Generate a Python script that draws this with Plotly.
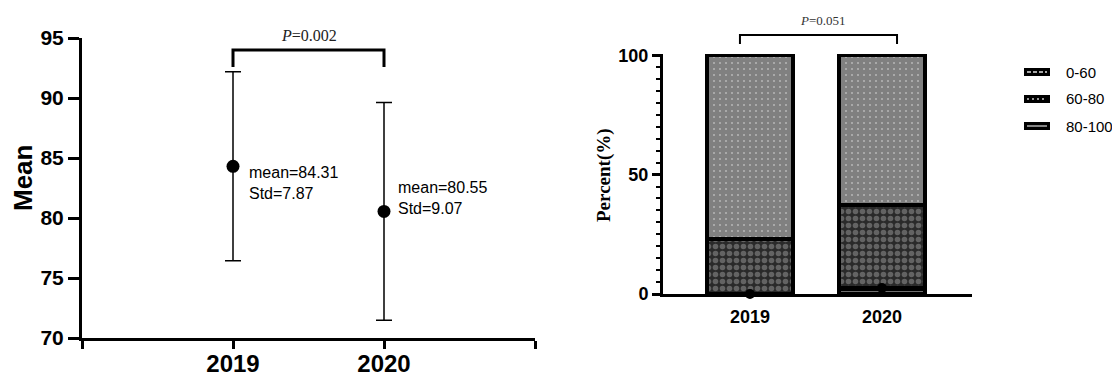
import plotly.graph_objects as go

# ---- data ----
years = ["2019", "2020"]
means = [84.31, 80.55]
stds = [7.87, 9.07]
p_left = "0.002"
p_right = "0.051"

groups = ["0-60", "60-80", "80-100"]
pct_0_60 = [0.0, 2.5]
pct_60_80 = [23.0, 34.7]
pct_80_100 = [77.0, 62.8]

# page has an 8px body margin, so the figure is drawn 8px in from the top-left
OFF = 8
W, H = 1120 - OFF, 376 - OFF
def px(x): return (x - OFF) / W
def py(y): return 1 - (y - OFF) / H

xpos = [1, 2]

fig = go.Figure()

# ---- left panel: mean +/- std ----
fig.add_trace(go.Scatter(
    x=xpos, y=means, mode="markers",
    marker=dict(color="black", size=13),
    error_y=dict(type="data", array=stds, visible=True, color="black", thickness=1.5, width=8),
    xaxis="x", yaxis="y", showlegend=False, cliponaxis=False,
))

# ---- right panel: stacked percent bars ----
bar_line = dict(color="black", width=3.5)
bw = 0.65
styles = [
    dict(color="black", line=bar_line,
         pattern=dict(shape="-", fgcolor="#dddddd", bgcolor="black", size=5, solidity=0.2)),
    dict(color="#2a2a2a", line=bar_line,
         pattern=dict(shape=".", fgcolor="#9c9c9c", bgcolor="#2a2a2a", size=7, solidity=0.5)),
    dict(color="#808080", line=bar_line,
         pattern=dict(shape=".", fgcolor="#e6e6e6", bgcolor="#808080", size=6, solidity=0.1)),
]
for name, vals, st in zip(groups, [pct_0_60, pct_60_80, pct_80_100], styles):
    fig.add_trace(go.Bar(x=xpos, y=vals, name=name, width=bw, marker=st,
                         xaxis="x2", yaxis="y2", showlegend=False))
fig.add_trace(go.Scatter(
    x=xpos, y=pct_0_60, mode="markers",
    marker=dict(color="black", size=10),
    xaxis="x2", yaxis="y2", showlegend=False, cliponaxis=False,
))

bold = dict(family="Arial", color="black", weight="bold")

fig.update_layout(
    width=W, height=H,
    margin=dict(l=0, r=0, t=0, b=0),
    paper_bgcolor="white", plot_bgcolor="white",
    barmode="stack",
    showlegend=False,
    xaxis=dict(domain=[px(82), px(535)], range=[0, 3], automargin=False,
               tickvals=[0, 1, 2, 3], ticktext=["", years[0], years[1], ""],
               ticks="outside", ticklen=8, tickwidth=3, tickcolor="black",
               ticklabelstandoff=-6,
               showline=True, linecolor="black", linewidth=3,
               showgrid=False, zeroline=False,
               tickfont=dict(size=24, **bold), anchor="y"),
    yaxis=dict(domain=[py(338), py(38)], range=[70, 95], automargin=False,
               tickvals=[70, 75, 80, 85, 90, 95],
               ticks="outside", ticklen=11, tickwidth=3, tickcolor="black",
               showline=True, linecolor="black", linewidth=3,
               showgrid=False, zeroline=False,
               tickfont=dict(size=21, **bold), anchor="x"),
    xaxis2=dict(domain=[px(663), px(972)], range=[0.341, 2.682], automargin=False,
                tickvals=xpos, ticktext=years, ticks="",
                ticklabelstandoff=5,
                showline=True, linecolor="black", linewidth=2.5,
                showgrid=False, zeroline=False,
                tickfont=dict(size=18, **bold), anchor="y2"),
    yaxis2=dict(domain=[py(294), py(54)], range=[0, 100.5], automargin=False,
                tickvals=[0, 50, 100],
                ticks="outside", ticklen=8, tickwidth=2.5, tickcolor="black",
                minor=dict(dtick=5, ticks="outside", ticklen=4, tickwidth=2, tickcolor="black"),
                showline=True, linecolor="black", linewidth=3,
                showgrid=False, zeroline=False,
                tickfont=dict(size=18, **bold), anchor="x2"),
)

# significance brackets
fig.add_shape(type="path", xref="x", yref="paper",
              path=f"M 1 {py(67)} L 1 {py(50)} L 2 {py(50)} L 2 {py(67)}",
              line=dict(color="black", width=3))
fig.add_shape(type="path", xref="x2", yref="paper",
              path=f"M 0.924 {py(44)} L 0.924 {py(35)} L 2.114 {py(35)} L 2.114 {py(44)}",
              line=dict(color="black", width=2))

# manual legend (wide black swatches with inner line)
leg_y = [72, 99, 126]
inner = [dict(color="#e0e0e0", width=1.5, dash="4px,2px"),
         dict(color="#c8c8c8", width=1.5, dash="2px,3px"),
         dict(color="#b0b0b0", width=1.5)]
for i, name in enumerate(groups):
    yc = leg_y[i]
    fig.add_shape(type="rect", xref="paper", yref="paper",
                  x0=px(1024), x1=px(1050), y0=py(yc + 4), y1=py(yc - 4),
                  fillcolor="black", line=dict(width=0))
    fig.add_shape(type="line", xref="paper", yref="paper",
                  x0=px(1027), x1=px(1047), y0=py(yc), y1=py(yc), line=inner[i])
    fig.add_annotation(x=px(1064), y=py(yc), xref="paper", yref="paper",
                       xanchor="left", yanchor="middle", showarrow=False, text=name,
                       font=dict(family="Arial", size=15, color="black"))

annos = [
    dict(x=1.5, y=py(35), xref="x", yref="paper", text=f"<i>P</i>={p_left}",
         font=dict(family="Times New Roman", size=16, color="#222")),
    dict(x=px(823), y=py(20), xref="paper", yref="paper", text=f"<i>P</i>={p_right}",
         font=dict(family="Times New Roman", size=13, color="#333")),
    dict(x=1, y=means[0], xref="x", yref="y", xanchor="left", yanchor="middle",
         xshift=14, yshift=-17, align="left",
         text=f"mean={means[0]:.2f}<br>Std={stds[0]:.2f}",
         font=dict(family="Arial", size=16, color="black")),
    dict(x=2, y=means[1], xref="x", yref="y", xanchor="left", yanchor="middle",
         xshift=12, yshift=13, align="left",
         text=f"mean={means[1]:.2f}<br>Std={stds[1]:.2f}",
         font=dict(family="Arial", size=16, color="black")),
    dict(x=px(23), y=py(178), xref="paper", yref="paper", text="Mean", textangle=-90,
         font=dict(size=26, **bold)),
    dict(x=px(604), y=py(175), xref="paper", yref="paper", text="Percent(%)", textangle=-90,
         font=dict(family="Times New Roman", size=19, color="black", weight="bold")),
]
for a in annos:
    a.setdefault("showarrow", False)
    a.setdefault("xanchor", "center")
    a.setdefault("yanchor", "middle")
    fig.add_annotation(**a)

fig.write_html("out.html")
